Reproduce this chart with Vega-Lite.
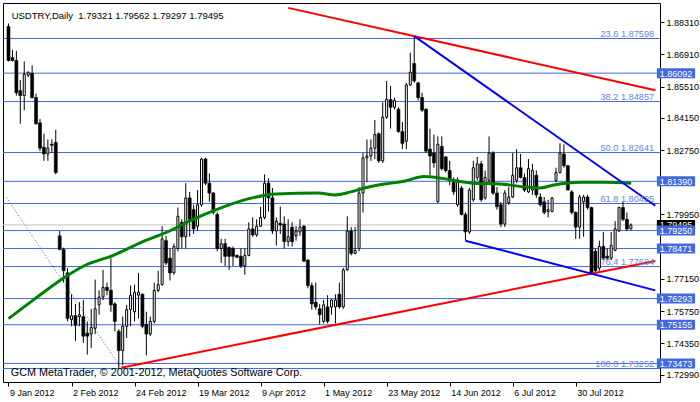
{
"$schema": "https://vega.github.io/schema/vega-lite/v6.json",
"width": 657, "height": 379,
"autosize": {"type": "none"},
"padding": {"left": 3, "top": 3, "right": 40, "bottom": 20},
"background": "white",
"config": {
  "view": {"stroke": "black", "strokeWidth": 1},
  "font": "Liberation Sans",
  "axis": {"labelFont": "Liberation Sans", "labelFontSize": 9, "labelColor": "black", "tickColor": "black", "domain": false, "grid": false, "tickSize": 4, "labelPadding": 2, "labelOverlap": false, "labelFlush": false, "labelBound": false, "title": null}
},
"datasets": {
"candles": [
{"i":0,"o":1.8812,"h":1.8825,"l":1.8660,"c":1.8664},
{"i":1,"o":1.8677,"h":1.8710,"l":1.8660,"c":1.8664},
{"i":2,"o":1.8664,"h":1.8706,"l":1.8512,"c":1.8524},
{"i":3,"o":1.8533,"h":1.8579,"l":1.8389,"c":1.8512},
{"i":4,"o":1.8512,"h":1.8660,"l":1.8448,"c":1.8605},
{"i":5,"o":1.8601,"h":1.8617,"l":1.8592,"c":1.8613},
{"i":6,"o":1.8609,"h":1.8643,"l":1.8499,"c":1.8503},
{"i":7,"o":1.8503,"h":1.8520,"l":1.8385,"c":1.8389},
{"i":8,"o":1.8393,"h":1.8410,"l":1.8270,"c":1.8283},
{"i":9,"o":1.8287,"h":1.8346,"l":1.8228,"c":1.8258},
{"i":10,"o":1.8258,"h":1.8321,"l":1.8228,"c":1.8283},
{"i":11,"o":1.8300,"h":1.8321,"l":1.8262,"c":1.8296},
{"i":12,"o":1.8308,"h":1.8363,"l":1.8169,"c":1.8177},
{"i":13,"o":1.7902,"h":1.7923,"l":1.7839,"c":1.7843},
{"i":14,"o":1.7843,"h":1.7851,"l":1.7699,"c":1.7750},
{"i":15,"o":1.7741,"h":1.7762,"l":1.7530,"c":1.7542},
{"i":16,"o":1.7538,"h":1.7648,"l":1.7509,"c":1.7555},
{"i":17,"o":1.7555,"h":1.7606,"l":1.7445,"c":1.7513},
{"i":18,"o":1.7551,"h":1.7614,"l":1.7509,"c":1.7559},
{"i":19,"o":1.7551,"h":1.7623,"l":1.7437,"c":1.7466},
{"i":20,"o":1.7479,"h":1.7530,"l":1.7386,"c":1.7466},
{"i":21,"o":1.7475,"h":1.7585,"l":1.7415,"c":1.7504},
{"i":22,"o":1.7500,"h":1.7712,"l":1.7475,"c":1.7585},
{"i":23,"o":1.7602,"h":1.7665,"l":1.7559,"c":1.7636},
{"i":24,"o":1.7636,"h":1.7754,"l":1.7623,"c":1.7678},
{"i":25,"o":1.7678,"h":1.7699,"l":1.7644,"c":1.7665},
{"i":26,"o":1.7665,"h":1.7805,"l":1.7572,"c":1.7602},
{"i":27,"o":1.7606,"h":1.7614,"l":1.7487,"c":1.7530},
{"i":28,"o":1.7487,"h":1.7496,"l":1.7325,"c":1.7403},
{"i":29,"o":1.7403,"h":1.7551,"l":1.7339,"c":1.7509},
{"i":30,"o":1.7509,"h":1.7602,"l":1.7458,"c":1.7581},
{"i":31,"o":1.7581,"h":1.7686,"l":1.7509,"c":1.7644},
{"i":32,"o":1.7572,"h":1.7690,"l":1.7530,"c":1.7657},
{"i":33,"o":1.7644,"h":1.7741,"l":1.7542,"c":1.7657},
{"i":34,"o":1.7648,"h":1.7652,"l":1.7500,"c":1.7509},
{"i":35,"o":1.7517,"h":1.7572,"l":1.7382,"c":1.7475},
{"i":36,"o":1.7475,"h":1.7551,"l":1.7466,"c":1.7530},
{"i":37,"o":1.7530,"h":1.7699,"l":1.7521,"c":1.7665},
{"i":38,"o":1.7665,"h":1.7750,"l":1.7657,"c":1.7690},
{"i":39,"o":1.7690,"h":1.7944,"l":1.7686,"c":1.7889},
{"i":40,"o":1.7881,"h":1.7902,"l":1.7775,"c":1.7784},
{"i":41,"o":1.7805,"h":1.7847,"l":1.7708,"c":1.7741},
{"i":42,"o":1.7741,"h":1.7868,"l":1.7733,"c":1.7856},
{"i":43,"o":1.7847,"h":1.8025,"l":1.7835,"c":1.7987},
{"i":44,"o":1.7961,"h":1.7974,"l":1.7847,"c":1.7898},
{"i":45,"o":1.7898,"h":1.8131,"l":1.7847,"c":1.8067},
{"i":46,"o":1.8067,"h":1.8093,"l":1.7898,"c":1.7974},
{"i":47,"o":1.8016,"h":1.8037,"l":1.7910,"c":1.7932},
{"i":48,"o":1.7944,"h":1.8101,"l":1.7923,"c":1.8037},
{"i":49,"o":1.8037,"h":1.8241,"l":1.8029,"c":1.8236},
{"i":50,"o":1.8236,"h":1.8241,"l":1.8122,"c":1.8131},
{"i":51,"o":1.8131,"h":1.8173,"l":1.8050,"c":1.8088},
{"i":52,"o":1.8088,"h":1.8092,"l":1.7995,"c":1.8004},
{"i":53,"o":1.7995,"h":1.8004,"l":1.7835,"c":1.7847},
{"i":54,"o":1.7847,"h":1.7889,"l":1.7784,"c":1.7868},
{"i":55,"o":1.7868,"h":1.7889,"l":1.7771,"c":1.7813},
{"i":56,"o":1.7851,"h":1.7856,"l":1.7754,"c":1.7813},
{"i":57,"o":1.7847,"h":1.7856,"l":1.7771,"c":1.7813},
{"i":58,"o":1.7817,"h":1.7821,"l":1.7805,"c":1.7809},
{"i":59,"o":1.7813,"h":1.7847,"l":1.7762,"c":1.7771},
{"i":60,"o":1.7771,"h":1.7847,"l":1.7733,"c":1.7817},
{"i":61,"o":1.7817,"h":1.7961,"l":1.7813,"c":1.7932},
{"i":62,"o":1.7932,"h":1.7982,"l":1.7898,"c":1.7906},
{"i":63,"o":1.7906,"h":1.7974,"l":1.7898,"c":1.7944},
{"i":64,"o":1.7944,"h":1.8029,"l":1.7940,"c":1.7982},
{"i":65,"o":1.7982,"h":1.8169,"l":1.7974,"c":1.8131},
{"i":66,"o":1.8131,"h":1.8152,"l":1.8008,"c":1.8067},
{"i":67,"o":1.8067,"h":1.8110,"l":1.7910,"c":1.7923},
{"i":68,"o":1.7923,"h":1.7982,"l":1.7860,"c":1.7966},
{"i":69,"o":1.7957,"h":1.8029,"l":1.7910,"c":1.7949},
{"i":70,"o":1.7953,"h":1.7987,"l":1.7847,"c":1.7877},
{"i":71,"o":1.7877,"h":1.7974,"l":1.7856,"c":1.7898},
{"i":72,"o":1.7940,"h":1.7961,"l":1.7856,"c":1.7877},
{"i":73,"o":1.7902,"h":1.7944,"l":1.7881,"c":1.7923},
{"i":74,"o":1.7919,"h":1.7974,"l":1.7902,"c":1.7940},
{"i":75,"o":1.7944,"h":1.7949,"l":1.7788,"c":1.7792},
{"i":76,"o":1.7796,"h":1.7801,"l":1.7674,"c":1.7686},
{"i":77,"o":1.7686,"h":1.7699,"l":1.7581,"c":1.7606},
{"i":78,"o":1.7614,"h":1.7699,"l":1.7581,"c":1.7593},
{"i":79,"o":1.7585,"h":1.7606,"l":1.7517,"c":1.7559},
{"i":80,"o":1.7530,"h":1.7623,"l":1.7521,"c":1.7602},
{"i":81,"o":1.7593,"h":1.7644,"l":1.7521,"c":1.7530},
{"i":82,"o":1.7593,"h":1.7627,"l":1.7559,"c":1.7623},
{"i":83,"o":1.7593,"h":1.7648,"l":1.7521,"c":1.7623},
{"i":84,"o":1.7648,"h":1.7699,"l":1.7585,"c":1.7593},
{"i":85,"o":1.7593,"h":1.7762,"l":1.7585,"c":1.7754},
{"i":86,"o":1.7754,"h":1.7987,"l":1.7750,"c":1.7923},
{"i":87,"o":1.7923,"h":1.7940,"l":1.7817,"c":1.7826},
{"i":88,"o":1.7826,"h":1.7940,"l":1.7822,"c":1.7839},
{"i":89,"o":1.7847,"h":1.8114,"l":1.7835,"c":1.8088},
{"i":90,"o":1.8088,"h":1.8262,"l":1.8004,"c":1.8241},
{"i":91,"o":1.8241,"h":1.8321,"l":1.8135,"c":1.8249},
{"i":92,"o":1.8249,"h":1.8321,"l":1.8228,"c":1.8283},
{"i":93,"o":1.8283,"h":1.8406,"l":1.8236,"c":1.8342},
{"i":94,"o":1.8346,"h":1.8351,"l":1.8219,"c":1.8228},
{"i":95,"o":1.8228,"h":1.8482,"l":1.8219,"c":1.8418},
{"i":96,"o":1.8418,"h":1.8575,"l":1.8410,"c":1.8495},
{"i":97,"o":1.8495,"h":1.8554,"l":1.8368,"c":1.8461},
{"i":98,"o":1.8461,"h":1.8503,"l":1.8452,"c":1.8490},
{"i":99,"o":1.8452,"h":1.8461,"l":1.8351,"c":1.8355},
{"i":100,"o":1.8355,"h":1.8397,"l":1.8279,"c":1.8304},
{"i":101,"o":1.8313,"h":1.8567,"l":1.8279,"c":1.8558},
{"i":102,"o":1.8558,"h":1.8698,"l":1.8554,"c":1.8613},
{"i":103,"o":1.8651,"h":1.8770,"l":1.8567,"c":1.8575},
{"i":104,"o":1.8567,"h":1.8571,"l":1.8490,"c":1.8503},
{"i":105,"o":1.8503,"h":1.8524,"l":1.8440,"c":1.8448},
{"i":106,"o":1.8452,"h":1.8457,"l":1.8262,"c":1.8270},
{"i":107,"o":1.8279,"h":1.8368,"l":1.8165,"c":1.8249},
{"i":108,"o":1.8262,"h":1.8342,"l":1.8198,"c":1.8219},
{"i":109,"o":1.8050,"h":1.8334,"l":1.8046,"c":1.8300},
{"i":110,"o":1.8291,"h":1.8334,"l":1.8186,"c":1.8194},
{"i":111,"o":1.8245,"h":1.8249,"l":1.8177,"c":1.8186},
{"i":112,"o":1.8186,"h":1.8228,"l":1.8122,"c":1.8143},
{"i":113,"o":1.8135,"h":1.8156,"l":1.8080,"c":1.8093},
{"i":114,"o":1.8037,"h":1.8156,"l":1.8029,"c":1.8144},
{"i":115,"o":1.8110,"h":1.8118,"l":1.7991,"c":1.7995},
{"i":116,"o":1.7995,"h":1.8004,"l":1.7881,"c":1.7919},
{"i":117,"o":1.7919,"h":1.8110,"l":1.7910,"c":1.8101},
{"i":118,"o":1.8059,"h":1.8228,"l":1.8050,"c":1.8198},
{"i":119,"o":1.8156,"h":1.8245,"l":1.8143,"c":1.8215},
{"i":120,"o":1.8215,"h":1.8228,"l":1.8050,"c":1.8059},
{"i":121,"o":1.8067,"h":1.8186,"l":1.8059,"c":1.8156},
{"i":122,"o":1.8143,"h":1.8334,"l":1.8135,"c":1.8262},
{"i":123,"o":1.8262,"h":1.8270,"l":1.8080,"c":1.8088},
{"i":124,"o":1.8088,"h":1.8114,"l":1.8016,"c":1.8029},
{"i":125,"o":1.8037,"h":1.8050,"l":1.7940,"c":1.7953},
{"i":126,"o":1.7953,"h":1.8101,"l":1.7940,"c":1.8088},
{"i":127,"o":1.8046,"h":1.8114,"l":1.8037,"c":1.8071},
{"i":128,"o":1.8071,"h":1.8262,"l":1.8067,"c":1.8165},
{"i":129,"o":1.8143,"h":1.8279,"l":1.8131,"c":1.8198},
{"i":130,"o":1.8198,"h":1.8258,"l":1.8152,"c":1.8156},
{"i":131,"o":1.8156,"h":1.8173,"l":1.8093,"c":1.8101},
{"i":132,"o":1.8093,"h":1.8236,"l":1.8088,"c":1.8194},
{"i":133,"o":1.8101,"h":1.8215,"l":1.8080,"c":1.8186},
{"i":134,"o":1.8165,"h":1.8186,"l":1.8067,"c":1.8080},
{"i":135,"o":1.8071,"h":1.8088,"l":1.8029,"c":1.8037},
{"i":136,"o":1.8050,"h":1.8071,"l":1.7995,"c":1.8004},
{"i":137,"o":1.8008,"h":1.8059,"l":1.7982,"c":1.8016},
{"i":138,"o":1.8008,"h":1.8071,"l":1.8004,"c":1.8067},
{"i":139,"o":1.8143,"h":1.8198,"l":1.8135,"c":1.8177},
{"i":140,"o":1.8177,"h":1.8304,"l":1.8173,"c":1.8262},
{"i":141,"o":1.8258,"h":1.8300,"l":1.8198,"c":1.8207},
{"i":142,"o":1.8207,"h":1.8211,"l":1.8101,"c":1.8101},
{"i":143,"o":1.8093,"h":1.8101,"l":1.7995,"c":1.8004},
{"i":144,"o":1.8004,"h":1.8008,"l":1.7889,"c":1.7940},
{"i":145,"o":1.7940,"h":1.8080,"l":1.7889,"c":1.8071},
{"i":146,"o":1.8050,"h":1.8080,"l":1.7898,"c":1.8071},
{"i":147,"o":1.8071,"h":1.8080,"l":1.8016,"c":1.8025},
{"i":148,"o":1.8025,"h":1.8029,"l":1.7737,"c":1.7741},
{"i":149,"o":1.7835,"h":1.7847,"l":1.7737,"c":1.7750},
{"i":150,"o":1.7762,"h":1.7881,"l":1.7750,"c":1.7856},
{"i":151,"o":1.7856,"h":1.7919,"l":1.7796,"c":1.7805},
{"i":152,"o":1.7813,"h":1.7847,"l":1.7796,"c":1.7805},
{"i":153,"o":1.7805,"h":1.7919,"l":1.7796,"c":1.7860},
{"i":154,"o":1.7839,"h":1.7966,"l":1.7835,"c":1.7932},
{"i":155,"o":1.7923,"h":1.8029,"l":1.7919,"c":1.8025},
{"i":156,"o":1.8025,"h":1.8050,"l":1.7966,"c":1.7974},
{"i":157,"o":1.7974,"h":1.8004,"l":1.7923,"c":1.7932},
{"i":158,"o":1.79321,"h":1.79562,"l":1.79297,"c":1.79495}
],
"levels": [
{"v":1.87598},{"v":1.86092},{"v":1.84857},{"v":1.82641},{"v":1.81390},{"v":1.80425},{"v":1.79250},{"v":1.78471},{"v":1.77684},{"v":1.76293},{"v":1.75155},{"v":1.73473},{"v":1.73252}
],
"ma": [
{"i":0,"v":1.7542},{"i":6.6,"v":1.7627},{"i":14.1,"v":1.7720},{"i":19.1,"v":1.7771},{"i":26.6,"v":1.7817},{"i":34.1,"v":1.7877},{"i":40.9,"v":1.7923},{"i":45.9,"v":1.7966},{"i":54.1,"v":1.8025},{"i":61.9,"v":1.8067},{"i":67.9,"v":1.8084},{"i":78.6,"v":1.8088},{"i":82.9,"v":1.8080},{"i":86.9,"v":1.8093},{"i":90.4,"v":1.8110},{"i":95.4,"v":1.8127},{"i":100.4,"v":1.8139},{"i":105.4,"v":1.8160},{"i":108.6,"v":1.8156},{"i":113.1,"v":1.8143},{"i":118.1,"v":1.8131},{"i":124.9,"v":1.8127},{"i":131.4,"v":1.8114},{"i":134.9,"v":1.8110},{"i":138.1,"v":1.8122},{"i":141.4,"v":1.8131},{"i":145.6,"v":1.8135},{"i":151.4,"v":1.8135},{"i":158.1,"v":1.8131}
],
"trend": [
{"g":"r1","i":71,"v":1.8893},{"g":"r1","i":164.2,"v":1.8535},
{"g":"r2","i":28.6,"v":1.7329},{"g":"r2","i":164.2,"v":1.7793},
{"g":"b1","i":103,"v":1.8770},{"g":"b1","i":164.2,"v":1.8033},
{"g":"b2","i":116,"v":1.7881},{"g":"b2","i":164.2,"v":1.7665}
],
"dotted": [
{"i":-0.5,"v":1.8068},{"i":28.2,"v":1.7337}
],
"fib": [
{"v":1.87598,"t":"23.6 1.87598"},{"v":1.84857,"t":"38.2 1.84857"},{"v":1.82641,"t":"50.0 1.82641"},{"v":1.80425,"t":"61.8 1.80425"},{"v":1.77684,"t":"76.4 1.77684"},{"v":1.73252,"t":"100.0 1.73252"}
],
"blueboxes": [
{"v":1.86092},{"v":1.81390},{"v":1.79250},{"v":1.78471},{"v":1.76293},{"v":1.75155},{"v":1.73473}
],
"blackbox": [{"v":1.79495}]
},
"layer": [
{
 "data": {"name": "levels"},
 "mark": {"type": "rule", "color": "#4169E1", "strokeWidth": 1},
 "encoding": {
  "y": {"field": "v", "type": "quantitative", "title": null,
        "scale": {"domain": [1.72884, 1.88924], "nice": false, "zero": false},
        "axis": {"orient": "right", "values": [1.8831, 1.8691, 1.8551, 1.8415, 1.8275, 1.7995, 1.7715, 1.7575, 1.7435, 1.7299], "format": ".5f"}}
 }
},
{
 "data": {"values": [{"v": 1.79495}]},
 "mark": {"type": "rule", "color": "#c0c0c0", "strokeWidth": 1},
 "encoding": {"y": {"field": "v", "type": "quantitative", "title": null}}
},
{
 "data": {"name": "dotted"},
 "mark": {"type": "line", "color": "#3a62e0", "strokeWidth": 1, "strokeDash": [1, 2], "clip": true},
 "encoding": {
  "x": {"field": "i", "type": "quantitative", "title": null,
        "scale": {"domain": [-0.125, 164.125], "nice": false, "zero": false},
        "axis": {"values": [0, 16, 32, 48, 64, 80, 96, 112, 128, 144], "labelAlign": "left", "labelBaseline": "top", "labelOffset": 1,
                 "labelExpr": "['9 Jan 2012','2 Feb 2012','24 Feb 2012','19 Mar 2012','9 Apr 2012','1 May 2012','23 May 2012','14 Jun 2012','6 Jul 2012','30 Jul 2012'][round(datum.value/16)]"}},
  "y": {"field": "v", "type": "quantitative", "title": null}
 }
},
{
 "data": {"name": "candles"},
 "mark": {"type": "rule", "color": "black", "strokeWidth": 1, "clip": true},
 "encoding": {
  "x": {"field": "i", "type": "quantitative", "title": null},
  "y": {"field": "l", "type": "quantitative", "title": null},
  "y2": {"field": "h"}
 }
},
{
 "data": {"name": "candles"},
 "transform": [{"filter": "datum.c > datum.o"}],
 "mark": {"type": "bar", "width": 2, "fill": "white", "stroke": "black", "strokeWidth": 1, "clip": true},
 "encoding": {
  "x": {"field": "i", "type": "quantitative", "title": null},
  "y": {"field": "o", "type": "quantitative", "title": null},
  "y2": {"field": "c"}
 }
},
{
 "data": {"name": "candles"},
 "transform": [{"filter": "datum.c <= datum.o"}],
 "mark": {"type": "bar", "width": 3, "fill": "black", "stroke": "black", "strokeWidth": 0.6, "clip": true},
 "encoding": {
  "x": {"field": "i", "type": "quantitative", "title": null},
  "y": {"field": "o", "type": "quantitative", "title": null},
  "y2": {"field": "c"}
 }
},
{
 "data": {"name": "ma"},
 "mark": {"type": "line", "color": "#008000", "strokeWidth": 3, "interpolate": "monotone", "clip": true},
 "encoding": {
  "x": {"field": "i", "type": "quantitative", "title": null},
  "y": {"field": "v", "type": "quantitative", "title": null}
 }
},
{
 "data": {"name": "trend"},
 "mark": {"type": "line", "strokeWidth": 2, "clip": true},
 "encoding": {
  "x": {"field": "i", "type": "quantitative", "title": null},
  "y": {"field": "v", "type": "quantitative", "title": null},
  "detail": {"field": "g"},
  "stroke": {"field": "g", "type": "nominal", "legend": null,
             "scale": {"domain": ["r1", "r2", "b1", "b2"], "range": ["#ff0000", "#ff0000", "#0000ff", "#0000ff"]}}
 }
},
{
 "data": {"name": "fib"},
 "mark": {"type": "text", "align": "right", "baseline": "alphabetic", "dy": -2, "fontSize": 9.2, "font": "Liberation Sans", "color": "#6482e6"},
 "encoding": {
  "x": {"datum": 163.9},
  "y": {"field": "v", "type": "quantitative", "title": null},
  "text": {"field": "t"}
 }
},
{
 "data": {"name": "blackbox"},
 "mark": {"type": "bar", "height": 10, "color": "black", "clip": false},
 "encoding": {
  "x": {"datum": 164.6}, "x2": {"datum": 174.3},
  "y": {"field": "v", "type": "quantitative", "title": null}
 }
},
{
 "data": {"name": "blackbox"},
 "mark": {"type": "text", "align": "center", "baseline": "middle", "dy": 0.5, "fontSize": 9, "font": "Liberation Sans", "color": "white", "clip": false},
 "encoding": {
  "x": {"datum": 169.45},
  "y": {"field": "v", "type": "quantitative", "title": null},
  "text": {"field": "v", "type": "quantitative", "format": ".5f"}
 }
},
{
 "data": {"name": "blueboxes"},
 "mark": {"type": "bar", "height": 10, "color": "#4169E1", "clip": false},
 "encoding": {
  "x": {"datum": 164.6}, "x2": {"datum": 174.3},
  "y": {"field": "v", "type": "quantitative", "title": null}
 }
},
{
 "data": {"name": "blueboxes"},
 "mark": {"type": "text", "align": "center", "baseline": "middle", "dy": 0.5, "fontSize": 9, "font": "Liberation Sans", "color": "white", "clip": false},
 "encoding": {
  "x": {"datum": 169.45},
  "y": {"field": "v", "type": "quantitative", "title": null},
  "text": {"field": "v", "type": "quantitative", "format": ".5f"}
 }
},
{
 "data": {"values": [{"t": "USDTRY,Daily\u00a0\u00a01.79321 1.79562 1.79297 1.79495"}]},
 "mark": {"type": "text", "align": "left", "baseline": "alphabetic", "fontSize": 9.5, "font": "Liberation Sans", "color": "black"},
 "encoding": {
  "x": {"datum": 0.8},
  "y": {"datum": 1.8846},
  "text": {"field": "t"}
 }
},
{
 "data": {"values": [{"t": "GCM MetaTrader, © 2001-2012, MetaQuotes Software Corp."}]},
 "mark": {"type": "text", "align": "left", "baseline": "alphabetic", "fontSize": 10.8, "font": "Liberation Sans", "color": "black"},
 "encoding": {
  "x": {"datum": 0.6},
  "y": {"datum": 1.7293},
  "text": {"field": "t"}
 }
}
]
}
